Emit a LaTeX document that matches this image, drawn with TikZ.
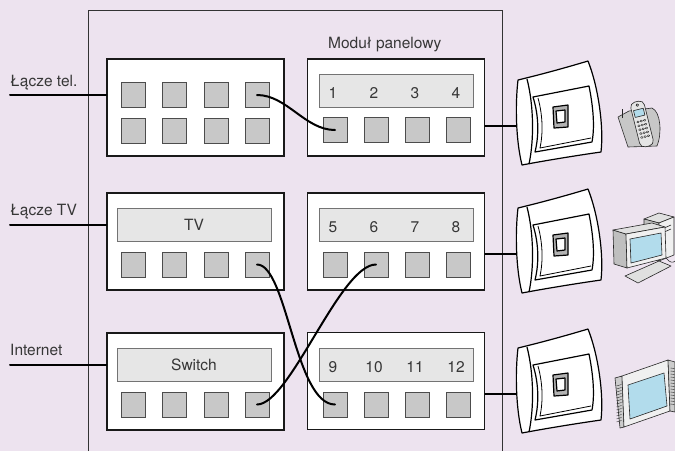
\documentclass[tikz,border=0pt]{standalone}
\usepackage{fontspec}
\setmainfont{TeX Gyre Heros}
\usetikzlibrary{calc}
\definecolor{bgcol}{RGB}{237,227,239}
\definecolor{portgray}{RGB}{200,200,200}
\definecolor{stripgray}{RGB}{230,230,230}
\definecolor{screenblue}{RGB}{178,220,236}
\definecolor{txtgray}{RGB}{55,55,55}

\tikzset{
	unit/.style={draw=black!90, line width=1.5pt, fill=white, minimum width=177pt, minimum height=97pt, inner sep=0pt},
	port/.style={draw=black!70, line width=0.9pt, fill=portgray, minimum width=24pt, minimum height=25pt, inner sep=0pt},
	strip/.style={draw=black!55, line width=0.9pt, fill=stripgray, minimum width=154pt, minimum height=33pt, inner sep=0pt, text=txtgray, font=\fontsize{15.5}{18}\selectfont},
	lbl/.style={text=txtgray, font=\fontsize{15.5}{18}\selectfont, inner sep=0pt},
	cable/.style={line width=2pt, line cap=round},
	cabinet/.style={draw=black!80, line width=0.9pt},
	plate/.style={draw=black, line width=1.2pt, line join=round},
	icon/.style={draw=black!85, line width=0.6pt, line join=round},
	socket/.pic={
		\draw[plate, fill=white] (0,-46) .. controls (25,-52) and (50,-59) .. (70,-65) .. controls (80,-40) and (86,0) .. (83,26) .. controls (55,30) and (25,35) .. (4,39) .. controls (-2,15) and (-3,-20) .. cycle;
		\draw[plate] (9,-47) .. controls (16,-20) and (16,15) .. (11,38);
		\draw[plate] (15,-29) -- (71,-40) .. controls (75,-20) and (77,0) .. (74,16) -- (17,26) .. controls (21,10) and (21,-10) .. cycle;
		\draw[plate, line width=0.8pt] (20,-28) .. controls (25,-10) and (25,8) .. (22,22) -- (73,12);
		\draw[plate, fill=black!30] (35,-19) -- (50,-21) -- (50,1) -- (36,2) -- cycle;
		\draw[plate, fill=white] (38,-15) -- (47,-16) -- (47,-4) -- (39,-3) -- cycle;
	}
}

\begin{document}
\begin{tikzpicture}[x=1pt,y=-1pt]
\fill[bgcol](0,0)rectangle(675,451);
\useasboundingbox(0,0)rectangle(675,451);

% cabinet outline
\draw[cabinet](88,451)--(88,10)--(502,10)--(502,451);

% incoming lines
\node[lbl, anchor=base west](lTel)at(10,86){Łącze tel.};
\node[lbl, anchor=base west](lTv)at(10,215){Łącze TV};
\node[lbl, anchor=base west](lNet)at(10,355){Internet};
\coordinate(inTel)at(10,95);
\coordinate(inTv)at(10,224.5);
\coordinate(inNet)at(10,364.5);

% devices on the left, patch panels on the right
\node[unit](tel)at(195.5,107.5){};
\node[unit](tv)at(195.5,241.5){};
\node[unit](sw)at(195.5,381.5){};
\node[unit](pA)at(396,107.5){};
\node[unit](pB)at(396,241.5){};
\node[unit](pC)at(396,381){};
\node[lbl, anchor=base west](lPanel)at(328,48){Moduł panelowy};

\draw[cable](inTel)--(inTel-|tel.west)
	(inTv)--(inTv-|tv.west)
	(inNet)--(inNet-|sw.west);

\node[strip](tvS)at(194,224.5){TV};
\node[strip](swS)at(194,364.5){Switch};
\node[strip](pAS)at(396,90.5){};
\node[strip](pBS)at(396,224.5){};
\node[strip](pCS)at(396,364.5){};

\foreach \x [count=\i] in {133,174,216,257}{
	\node[port](telA\i)at(\x,95){};
	\node[port](telB\i)at(\x,130.5){};
	\node[port](tv\i)at(\x,264.5){};
	\node[port](sw\i)at(\x,404.5){};
}
\foreach \x/\a/\b/\c [count=\i] in {335/1/5/9, 376/2/6/10, 417/3/7/11, 458/4/8/12}{
	\node[port](pA\i)at(\x,130){};
	\node[port](pB\i)at(\x,264.5){};
	\node[port](pC\i)at(\x,404.5){};
	\node[lbl, anchor=base](nA\i)at(\x-2,98){\a};
	\node[lbl, anchor=base](nB\i)at(\x-2,232){\b};
	\node[lbl, anchor=base](nC\i)at(\x-2,372){\c};
}

% patch cords
\draw[cable](telA4.center)..controls +(30,0) and +(-30,0)..(pA1.center);
\draw[cable](tv4.center)..controls +(30,0) and +(-40,0)..(pC1.center);
\draw[cable](sw4.center)..controls +(33,0) and +(-36,0)..(pB2.center);

% wall sockets
\coordinate(sA)at(518,126);
\coordinate(sB)at(518,254);
\coordinate(sC)at(518,394);
\draw[cable](sA-|pA.east)--(sA)
	(sB-|pB.east)--(sB)
	(sC-|pC.east)--(sC);
\pic at(sA){socket};
\pic at(sB){socket};
\pic at(sC){socket};

% phone
\draw[icon, fill=black!22](618,117)--(629,111)--(652,108)..controls(661,112)and(662,134)..(657,146)--(628,147)--cycle;
\draw[icon, line width=1pt](622,118)--(622,109);
\begin{scope}[shift={(642,124)}, rotate=14]
	\draw[icon, fill=black!10, rounded corners=5pt](-7,-23)rectangle(7,23);
	\draw[icon, fill=screenblue](-5,-15)rectangle(5,-8);
	\draw[icon](0,-19.5)circle(1.3);
	\foreach \r in {0,...,4}
		\foreach \c in {-1,0,1}
			\draw[icon, line width=0.4pt](\c*3.4,-3+\r*4)ellipse(1.3 and 1);
\end{scope}

% computer
\draw[icon, fill=black!12](644,219)--(659,213)--(674,217)--(659,223)--cycle;
\draw[icon, fill=black!25](644,219)--(659,223)--(659,261)--(644,256)--cycle;
\draw[icon, fill=black!6](659,223)--(674,217)--(674,255)--(659,261)--cycle;
\draw[icon](662,229)--(671,225)(662,233)--(671,229);
\draw[icon, fill=black!25](626,234)--(613,230)--(614,264)--(627,268)--cycle;
\draw[icon, fill=black!12](626,234)--(665,227)--(652,223)--(613,230)--cycle;
\draw[icon, fill=black!6](626,234)--(665,227)--(666,258)--(627,268)--cycle;
\draw[icon, fill=screenblue](630,239)--(661,233)--(662,255)--(631,263)--cycle;
\draw[icon, fill=black!12](625,276)--(659,261)--(671,266)--(638,283)--cycle;
\draw[icon](666,258)..controls(670,263)and(673,263)..(675,261);

% monitor
\draw[icon, fill=black!20](615,378)--(622,376)--(624,427)--(620,428)--cycle;
\draw[icon, fill=black!6](622,376)--(668,360)--(670,411)--(624,427)--cycle;
\draw[icon, fill=black!20](668,360)--(675,362)--(675,412)--(670,411)--cycle;
\draw[icon, fill=screenblue](628,385)--(664,373)--(667,406)--(630,419)--cycle;
\foreach \j in {0,...,12}{
	\draw[icon, line width=0.4pt](616.5,386+3*\j)--(621.5,384.5+3*\j);
	\draw[icon, line width=0.4pt](670.5,368+3*\j)--(674.5,368.5+3*\j);
}
\end{tikzpicture}
\end{document}
